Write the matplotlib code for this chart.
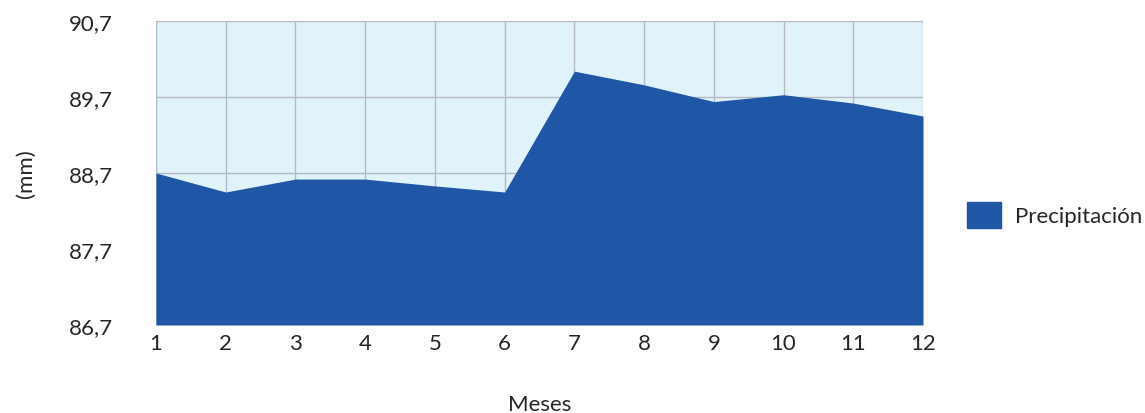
import matplotlib
matplotlib.use("Agg")
import matplotlib.pyplot as plt
from matplotlib.patches import Patch

# Datos
meses = [1, 2, 3, 4, 5, 6, 7, 8, 9, 10, 11, 12]
precipitacion = [88.70, 88.45, 88.62, 88.62, 88.53, 88.45,
                 90.04, 89.86, 89.64, 89.73, 89.62, 89.45]
ticks_y = [86.7, 87.7, 88.7, 89.7, 90.7]
etiquetas_y = ["86,7", "87,7", "88,7", "89,7", "90,7"]

plt.rcParams['font.family'] = ['Lato', 'DejaVu Sans']
color_area = "#1F56A5"
color_texto = "#262626"

fig = plt.figure(figsize=(11.45, 4.14), dpi=100)
ax = fig.add_axes([156 / 1145, 1 - 326 / 414, (923 - 156) / 1145, 304 / 414])
ax.set_facecolor("#E0F2FA")

ax.fill_between(meses, ticks_y[0], precipitacion, color=color_area, lw=0, zorder=3)

ax.set_xlim(1, 12)
ax.set_ylim(ticks_y[0], ticks_y[-1])
ax.set_xticks(meses)
ax.set_yticks(ticks_y)
ax.set_yticklabels(etiquetas_y)
ax.grid(True, color="#B5BAC2", lw=1, zorder=1)
ax.set_axisbelow(True)
for s in ax.spines.values():
    s.set_visible(False)
ax.tick_params(axis="both", length=0, labelsize=16, colors=color_texto)
ax.tick_params(axis="y", pad=31)
ax.tick_params(axis="x", pad=6)

ax.set_xlabel("Meses", fontsize=16, color=color_texto, labelpad=29)
ax.set_ylabel("(mm)", fontsize=16, color=color_texto, labelpad=24)

fig.legend(handles=[Patch(color=color_area, label="Precipitación")],
           loc="center left", bbox_to_anchor=(958 / 1145, 1 - 216 / 414),
           frameon=False, fontsize=16, handlelength=1.55, handleheight=1.36,
           handletextpad=0.6, borderaxespad=0, labelcolor=color_texto)

fig.savefig("out.png", dpi=100)
